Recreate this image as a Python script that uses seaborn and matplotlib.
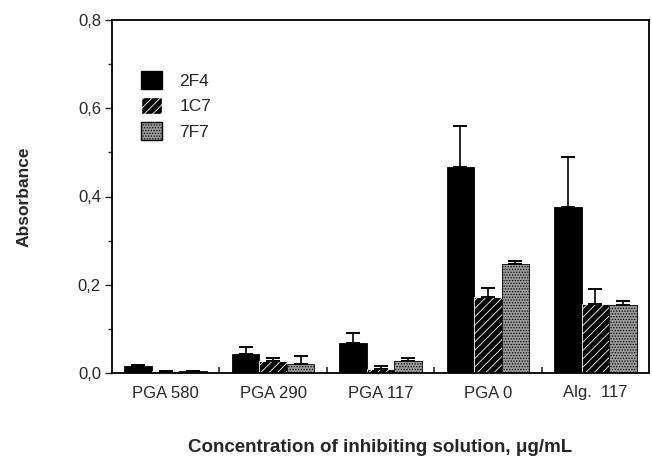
import numpy as np
import pandas as pd
import matplotlib
matplotlib.use("Agg")
import matplotlib.pyplot as plt
import seaborn as sns
from matplotlib.ticker import MultipleLocator, FixedLocator

sns.set_style("ticks")
plt.rcParams['font.family'] = ['Liberation Sans', 'DejaVu Sans']
plt.rcParams['hatch.linewidth'] = 0.6

categories = ["PGA 580", "PGA 290", "PGA 117", "PGA 0", "Alg.  117"]
series = ["2F4", "1C7", "7F7"]
v2F4 = [0.015, 0.043, 0.068, 0.467, 0.376]
e2F4 = [0.004, 0.015, 0.022, 0.093, 0.114]
v1C7 = [0.004, 0.028, 0.010, 0.172, 0.156]
e1C7 = [0.000, 0.006, 0.005, 0.021, 0.034]
v7F7 = [0.004, 0.020, 0.028, 0.247, 0.154]
e7F7 = [0.000, 0.018, 0.007, 0.007, 0.009]
yticklabels = ["0,0", "0,2", "0,4", "0,6", "0,8"]

vals = {"2F4": v2F4, "1C7": v1C7, "7F7": v7F7}
errs = {"2F4": e2F4, "1C7": e1C7, "7F7": e7F7}
df = pd.DataFrame([(c, s, vals[s][i]) for s in series for i, c in enumerate(categories)],
                  columns=["cat", "series", "val"])

fig = plt.figure(figsize=(6.52, 4.59), dpi=100)
ax = fig.add_axes([112/652, 1-373/459, (649-112)/652, (373-20)/459])

sns.barplot(data=df, x="cat", y="val", hue="series", order=categories, hue_order=series,
            palette=["black", "black", "#9a9a9a"], width=0.77, errorbar=None,
            saturation=1, ax=ax, legend=True)

styles = {
    "2F4": dict(fc="black", ec="black", hatch=None),
    "1C7": dict(fc="black", ec="white", hatch="////"),
    "7F7": dict(fc="#9c9c9c", ec="black", hatch="......"),
}
for cont, s in zip(ax.containers, series):
    st = styles[s]
    xs, tops = [], []
    for p in cont.patches:
        p.set_facecolor(st["fc"])
        p.set_edgecolor(st["ec"])
        p.set_linewidth(0.6)
        if st["hatch"]:
            p.set_hatch(st["hatch"])
        xs.append(p.get_x() + p.get_width()/2)
        tops.append(p.get_height())
    e = np.array(errs[s])
    ax.errorbar(xs, tops, yerr=[np.zeros_like(e), e], fmt="none", ecolor="black",
                elinewidth=1.2, capsize=5, capthick=1.4, zorder=3)

ax.set_xlim(-0.5, 4.5)
ax.set_ylim(0, 0.8)
ax.yaxis.set_major_locator(FixedLocator([0, 0.2, 0.4, 0.6, 0.8]))
ax.set_yticklabels(yticklabels)
ax.yaxis.set_minor_locator(MultipleLocator(0.1))
ax.tick_params(axis="y", which="major", direction="out", length=5, width=1, labelsize=12, pad=3)
ax.tick_params(axis="y", which="minor", direction="out", length=3, width=1)
ax.tick_params(axis="x", which="major", length=0, labelsize=12, pad=9)
ax.xaxis.set_minor_locator(FixedLocator([0.5, 1.5, 2.5, 3.5]))
ax.tick_params(axis="x", which="minor", direction="in", length=4, width=1.2)
for sp in ax.spines.values():
    sp.set_visible(True)
    sp.set_linewidth(1.3)
    sp.set_color("black")

ax.set_ylabel("Absorbance", fontsize=12.5, fontweight="bold", labelpad=33)
ax.set_xlabel("Concentration of inhibiting solution, \u03bcg/mL", fontsize=13.5, fontweight="bold", labelpad=28)

handles, labels = ax.get_legend_handles_labels()
for h, s in zip(handles, series):
    st = styles[s]
    h.set_facecolor(st["fc"]); h.set_edgecolor(st["ec"])
    if st["hatch"]:
        h.set_hatch(st["hatch"])
ax.legend(handles, labels, loc="upper left", bbox_to_anchor=(0.025, 0.9), frameon=False,
          fontsize=12.5, handlelength=1.2, handleheight=1.2, labelspacing=0.45, handletextpad=1.0)

fig.savefig("out.png", dpi=100)
